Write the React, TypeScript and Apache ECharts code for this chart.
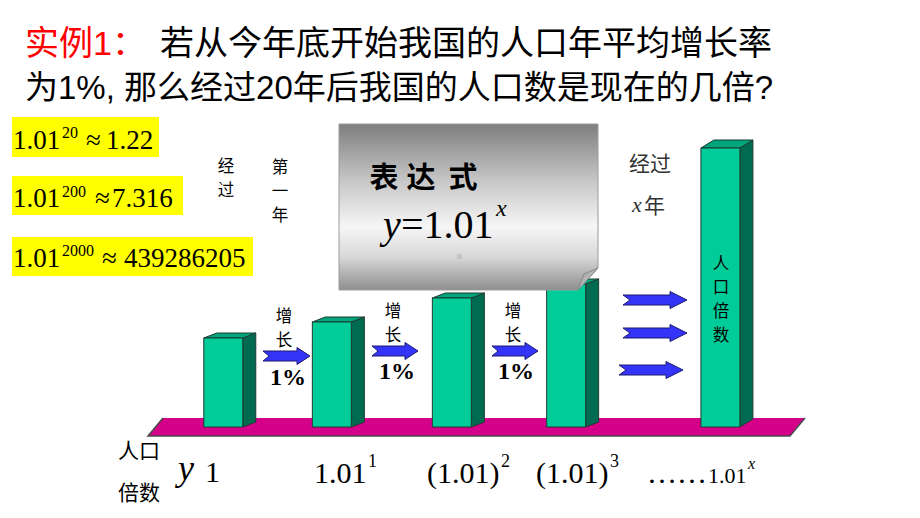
import React, { useEffect, useRef } from "react";
import * as echarts from "echarts";

// ---- data ----
const titleLead = "实例1：";
const titleLine1 = "若从今年底开始我国的人口年平均增长率";
const titleLine2 = "为1%, 那么经过20年后我国的人口数是现在的几倍?";

const formulaBase = "1.01";
const formulaExponents = ["20", "200", "2000"];
const formulaResults = ["1.22", "7.316", "439286205"];

// year step of each bar (0,1,2,3 and "x" years) and bar heights
const stepPositions = [0, 0.95, 2, 3, 4.35];
const barHeights = [89, 105, 129, 143, 279];
const growthLabels = ["1%", "1%", "1%"];

const bottomBases = ["1", "1.01", "(1.01)", "(1.01)", "1.01"];
const bottomExponents = ["", "1", "2", "3", "x"];

const CJK = '"Noto Sans CJK SC", sans-serif';
const SERIF = '"Liberation Serif", "Times New Roman", serif';
const MIX = '"Liberation Sans", "Noto Sans CJK SC", sans-serif';

type TOpts = {
  family?: string;
  weight?: string;
  italic?: boolean;
  fill?: string;
  align?: string;
  z?: number;
};

const T = (text: string, x: number, y: number, size: number, o: TOpts = {}) => ({
  type: "text",
  x,
  y,
  z: o.z ?? 20,
  silent: true,
  style: {
    text,
    fontSize: size,
    fontFamily: o.family || CJK,
    fontWeight: o.weight || "normal",
    fontStyle: o.italic ? "italic" : "normal",
    fill: o.fill || "#000",
    align: o.align || "left",
    verticalAlign: "middle",
  },
});

// vertical (stacked) text: one element per character
const V = (text: string, x: number, yTop: number, size: number, step: number, o: TOpts = {}) =>
  Array.from(text).map((ch, i) => T(ch, x, yTop + i * step, size, { align: "center", ...o }));

const arrow = (x0: number, x1: number, yc: number, headLen: number, notch: number) => {
  const sh = 10;
  const hh = 17;
  return {
    type: "polygon",
    z: 8,
    silent: true,
    shape: {
      points: [
        [x0, yc - sh / 2],
        [x1 - headLen, yc - sh / 2],
        [x1 - headLen, yc - hh / 2],
        [x1, yc],
        [x1 - headLen, yc + hh / 2],
        [x1 - headLen, yc + sh / 2],
        [x0, yc + sh / 2],
        [x0 + notch, yc],
      ],
    },
    style: { fill: "#3434F8", stroke: "#1b1b70", lineWidth: 1 },
  };
};

export default function App() {
  const ref = useRef<HTMLDivElement>(null);

  useEffect(() => {
    if (!ref.current) return;
    const chart = echarts.init(ref.current, undefined, { renderer: "svg" });

    const boxes = [
      { x: 12, y: 117, w: 147, h: 40, cy: 140, scy: 132, approxX: 86, numX: 106 },
      { x: 12, y: 176, w: 171, h: 39, cy: 198, scy: 191, approxX: 95, numX: 112 },
      { x: 12, y: 237, w: 241, h: 39, cy: 258, scy: 250, approxX: 102, numX: 124 },
    ];

    const graphics: any[] = [];
    const VS = 16.5; // stacked character size
    const VSTEP = 24; // stacked character pitch

    // title
    graphics.push(T(titleLead, 25, 43, 34, { family: MIX, fill: "#FF0000" }));
    graphics.push(T(titleLine1, 160, 43, 34, { family: MIX }));
    graphics.push(T(titleLine2, 25, 87, 33, { family: MIX }));

    // formula boxes
    boxes.forEach((b, i) => {
      graphics.push({
        type: "rect",
        z: 5,
        silent: true,
        shape: { x: b.x, y: b.y, width: b.w, height: b.h },
        style: { fill: "#FFFF00" },
      });
      graphics.push(T(formulaBase, 13, b.cy, 27, { family: SERIF }));
      graphics.push(T(formulaExponents[i], 62, b.scy, 16, { family: SERIF }));
      graphics.push(T("≈", b.approxX, b.cy, 27, { family: SERIF }));
      graphics.push(T(formulaResults[i], b.numX, b.cy, 27, { family: SERIF }));
    });

    // vertical captions
    graphics.push(...V("经过", 226, 165, VS, VSTEP));
    graphics.push(...V("第一年", 280, 166, VS, VSTEP));
    graphics.push(T("经过", 650, 162, 21, { align: "center", fill: "#333" }));
    graphics.push(T("x", 632, 204, 22, { family: SERIF, italic: true, fill: "#333" }));
    graphics.push(T("年", 644, 204, 21, { fill: "#333" }));

    // floor
    graphics.push({
      type: "polygon",
      z: 1,
      silent: true,
      shape: { points: [[148, 436], [163, 418], [805, 418], [790, 436]] },
      style: { fill: "#D4008A" },
    });
    graphics.push({
      type: "polyline",
      z: 1,
      silent: true,
      shape: { points: [[163, 418], [148, 436], [790, 436], [805, 418]] },
      style: { stroke: "#4a4a4a", lineWidth: 1.5, fill: null },
    });

    // note card
    graphics.push({
      type: "polygon",
      z: 10,
      silent: true,
      shape: { points: [[339, 124], [598, 124], [598, 268], [578, 290], [339, 290]] },
      style: {
        fill: new echarts.graphic.LinearGradient(0, 0, 0, 1, [
          { offset: 0, color: "#7e7e7e" },
          { offset: 0.35, color: "#c8c8c8" },
          { offset: 0.62, color: "#f6f6f6" },
          { offset: 0.8, color: "#d8d8d8" },
          { offset: 1, color: "#8e8e8e" },
        ]),
        stroke: "#9c9c9c",
        lineWidth: 1,
      },
    });
    graphics.push({
      type: "polygon",
      z: 11,
      silent: true,
      shape: { points: [[578, 290], [584, 274], [598, 268]] },
      style: {
        fill: new echarts.graphic.LinearGradient(0, 0, 1, 1, [
          { offset: 0, color: "#9a9a9a" },
          { offset: 1, color: "#d6d6d6" },
        ]),
        stroke: "#8a8a8a",
        lineWidth: 1,
      },
    });
    graphics.push({
      type: "rect",
      z: 11,
      silent: true,
      shape: { x: 457, y: 254, width: 5, height: 5 },
      style: { fill: "#c4c4c4" },
    });
    graphics.push(T("表", 384, 175, 29, { align: "center", weight: "bold" }));
    graphics.push(T("达", 421, 175, 29, { align: "center", weight: "bold" }));
    graphics.push(T("式", 463, 175, 29, { align: "center", weight: "bold" }));
    graphics.push(T("y", 383, 224, 40, { family: SERIF, italic: true }));
    graphics.push(T("=1.01", 401, 224, 40, { family: SERIF }));
    graphics.push(T("x", 496, 208, 24, { family: SERIF, italic: true }));

    // growth arrows and labels
    const growth = [
      { ax0: 263, ax1: 310, ay: 356, tx: 284, ty: 315, px: 288, py: 377 },
      { ax0: 372, ax1: 418, ay: 351, tx: 393, ty: 310, px: 397, py: 371 },
      { ax0: 492, ax1: 538, ay: 351, tx: 513, ty: 310, px: 516, py: 371 },
    ];
    growth.forEach((g, i) => {
      graphics.push(arrow(g.ax0, g.ax1, g.ay, 13, 6));
      graphics.push(...V("增长", g.tx, g.ty, VS, VSTEP));
      graphics.push(
        T(growthLabels[i], g.px, g.py, 24, { family: SERIF, weight: "bold", align: "center" })
      );
    });
    graphics.push(arrow(623, 687, 300, 17, 7));
    graphics.push(arrow(623, 687, 333, 17, 7));
    graphics.push(arrow(619, 683, 370, 17, 7));

    // label on last bar
    graphics.push(...V("人口倍数", 721, 262, VS, VSTEP));

    // bottom row
    graphics.push(T("人口", 118, 449, 21));
    graphics.push(T("倍数", 118, 491, 21));
    graphics.push(T("y", 178, 468, 36, { family: SERIF, italic: true }));
    graphics.push(T(bottomBases[0], 205, 471, 30, { family: SERIF }));
    graphics.push(T(bottomBases[1], 314, 472, 30, { family: SERIF }));
    graphics.push(T(bottomExponents[1], 368, 461, 18, { family: SERIF }));
    graphics.push(T(bottomBases[2], 427, 472, 30, { family: SERIF }));
    graphics.push(T(bottomExponents[2], 501, 461, 18, { family: SERIF }));
    graphics.push(T(bottomBases[3], 536, 472, 30, { family: SERIF }));
    graphics.push(T(bottomExponents[3], 610, 461, 18, { family: SERIF }));
    graphics.push(T("……", 647, 472, 30, { family: SERIF }));
    graphics.push(T(bottomBases[4], 708, 475, 22, { family: SERIF }));
    graphics.push(T(bottomExponents[4], 748, 463, 16, { family: SERIF, italic: true }));

    const option: any = {
      animation: false,
      backgroundColor: "#ffffff",
      grid: { left: 109, right: 11, top: 127, bottom: 91 },
      xAxis: { type: "value", min: -1, max: 6, show: false },
      yAxis: { type: "value", min: 0, max: 300, show: false },
      series: [
        {
          type: "custom",
          z: 5,
          silent: true,
          data: stepPositions.map((x, i) => [x, barHeights[i]]),
          renderItem: (params: any, api: any) => {
            const idx = params.dataIndex;
            const p0 = api.coord([api.value(0), 0]);
            const p1 = api.coord([api.value(0), api.value(1)]);
            const w = 39;
            const dx = 13;
            const dy = idx === 4 ? 8 : 5;
            const l = p0[0] - w / 2;
            const r = p0[0] + w / 2;
            const t = p1[1];
            const b = p0[1];
            const edge = "#1f3a31";
            return {
              type: "group",
              children: [
                {
                  type: "polygon",
                  shape: { points: [[r, t], [r + dx, t - dy], [r + dx, b - dy], [r, b]] },
                  style: { fill: "#006B50", stroke: edge, lineWidth: 1 },
                },
                {
                  type: "polygon",
                  shape: { points: [[l, t], [l + dx, t - dy], [r + dx, t - dy], [r, t]] },
                  style: { fill: "#00A57C", stroke: edge, lineWidth: 1 },
                },
                {
                  type: "rect",
                  shape: { x: l, y: t, width: w, height: b - t },
                  style: { fill: "#00CC99", stroke: edge, lineWidth: 1 },
                },
              ],
            };
          },
        },
      ],
      graphic: graphics,
    };

    chart.setOption(option);
    return () => chart.dispose();
  }, []);

  return (
    <div
      ref={ref}
      style={{ position: "fixed", left: 0, top: 0, width: 920, height: 518, background: "#fff" }}
    />
  );
}
